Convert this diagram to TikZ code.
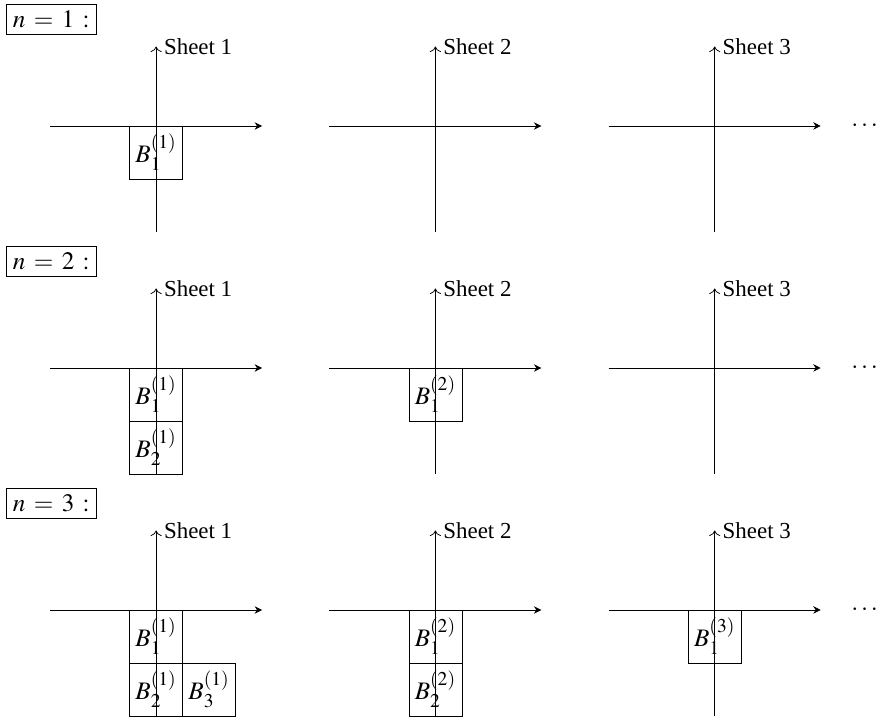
\documentclass[tikz,border=0pt]{standalone}
\usepackage{mathptmx}
\usepackage[no-math]{fontspec}
\setmainfont{Liberation Serif}
\usetikzlibrary{arrows.meta}
\DeclareMathSizes{12.3}{13.5}{10.5}{8}
\thickmuskip=6mu plus 5mu
\begin{document}
\fontsize{12.3}{14.8}\selectfont
\begin{tikzpicture}[cell/.style={draw,minimum size=1cm,inner sep=0pt},
  stage/.style={draw,inner sep=3.5pt}]
\useasboundingbox (0,0) rectangle (16.623,-13.547);
\foreach \n in {1,2,3}{
\pgfmathsetmacro\y{-2.377-(\n-1)*4.566}
%label
\node[stage,anchor=north west] (lab\n) at (0.113,\y+2.31) {$n=\n:$};
%axes
\foreach \s in {1,2,3}{
\pgfmathsetmacro\x{2.945+(\s-1)*5.27}
\draw[-{Stealth[length=4pt,width=4pt]}](\x-2,\y)--(\x+2,\y);
\draw[-{To[length=3pt,width=6pt]}](\x,\y-2)--(\x,\y+1.5)node[right](sh\n\s){Sheet \s};
}
\node[anchor=west,inner sep=1pt] (dots\n) at (16.02,\y) {$\cdots$};
}
%boxes
\foreach \n/\s/\k/\u/\v in {1/1/1/0/-0.5,2/1/1/0/-0.5,2/1/2/0/-1.5,2/2/1/0/-0.5,3/1/1/0/-0.5,3/1/2/0/-1.5,3/1/3/1/-1.5,3/2/1/0/-0.5,3/2/2/0/-1.5,3/3/1/0/-0.5}{
\pgfmathsetmacro\x{2.945+(\s-1)*5.27+\u}
\pgfmathsetmacro\y{-2.377-(\n-1)*4.566+\v}
\node[cell] (b\n\s\k) at (\x,\y) {$B_\k^{(\s)}$};
}
\end{tikzpicture}
\end{document}
